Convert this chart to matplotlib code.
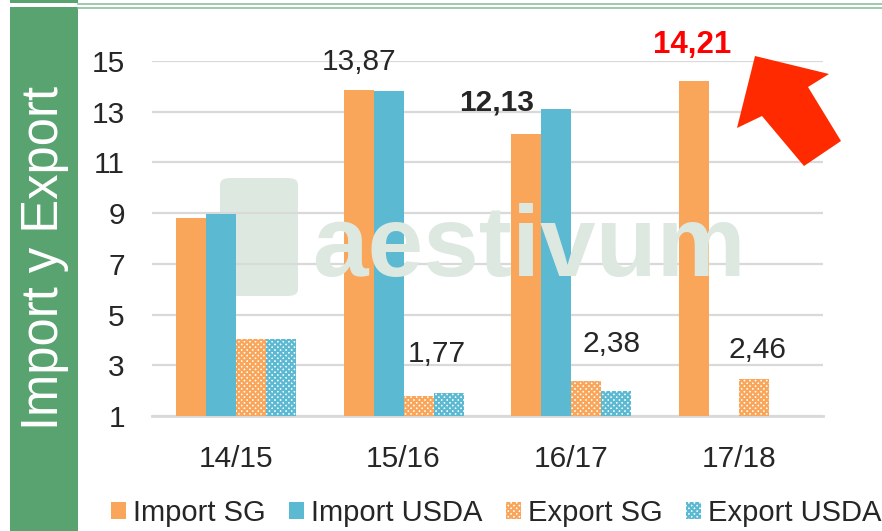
import matplotlib
matplotlib.use("Agg")
import matplotlib.pyplot as plt
import numpy as np
from matplotlib.patches import Polygon, Rectangle, FancyBboxPatch
from matplotlib.lines import Line2D

plt.rcParams['font.family'] = ['Liberation Sans', 'DejaVu Sans']
plt.rcParams['hatch.linewidth'] = 1.6

categories = ["14/15", "15/16", "16/17", "17/18"]
import_sg = [8.81, 13.87, 12.13, 14.21]
import_usda = [8.96, 13.80, 13.10, np.nan]
export_sg = [4.02, 1.77, 2.38, 2.46]
export_usda = [4.02, 1.92, 1.99, np.nan]
yticks = [1, 3, 5, 7, 9, 11, 13, 15]

ORANGE = "#f9a65a"
BLUE = "#5bb9d2"
GREEN = "#58a36f"

W, H = 882, 531
fig = plt.figure(figsize=(W / 100, H / 100), dpi=100)
fig.patch.set_facecolor("white")

# frame decorations
fig.add_artist(Rectangle((10 / W, 0), 68 / W, 1 - 7 / H, transform=fig.transFigure,
                         facecolor=GREEN, edgecolor="none"))
fig.add_artist(Rectangle((10 / W, 1 - 3 / H), 68 / W, 3 / H, transform=fig.transFigure,
                         facecolor=GREEN, edgecolor="none"))
fig.add_artist(Line2D([78 / W, 1], [1 - 3.5 / H, 1 - 3.5 / H], transform=fig.transFigure,
                      color="#8fbf9c", lw=1.2))
fig.add_artist(Line2D([78 / W, 1], [1 - 7.5 / H, 1 - 7.5 / H], transform=fig.transFigure,
                      color="#8fbf9c", lw=1.2))
fig.text(45 / W, 1 - 258 / H, "Import y Export", rotation=90, color="white",
         fontsize=36.5, ha="center", va="center")

ax = fig.add_axes([152 / W, 1 - 416 / H, (823 - 152) / W, (416 - 61) / H])
ax.set_facecolor("none")

# watermark
fig.add_artist(FancyBboxPatch((220 / W, 1 - 296 / H), 78 / W, 118 / H,
                              boxstyle="round,pad=0,rounding_size=0.012",
                              transform=fig.transFigure, facecolor="#dde9e0",
                              edgecolor="none", zorder=0))
fig.text(312 / W, 1 - 250 / H, "aestivum", fontsize=72, fontweight="bold",
         color="#dde9e0", ha="left", va="center", zorder=0.5)

x = np.arange(len(categories))
bw = 0.179
ax.bar(x - 1.5 * bw, import_sg, bw, color=ORANGE, label="Import SG", zorder=3)
ax.bar(x - 0.5 * bw, import_usda, bw, color=BLUE, label="Import USDA", zorder=3)
ax.bar(x + 0.5 * bw, export_sg, bw, facecolor="white", edgecolor=ORANGE, hatch="xxxxxx",
       linewidth=0, label="Export SG", zorder=3)
ax.bar(x + 1.5 * bw, export_usda, bw, facecolor="white", edgecolor=BLUE, hatch="xxxxxx",
       linewidth=0, label="Export USDA", zorder=3)

ax.set_ylim(1, 15)
ax.set_xlim(-0.5, 3.5)
ax.set_yticks(yticks)
ax.yaxis.grid(True, color="#d9d9d9", lw=1.6, zorder=1)
ax.set_axisbelow(True)
for s in ["top", "right", "left"]:
    ax.spines[s].set_visible(False)
ax.spines["bottom"].set_color("#d9d9d9")
ax.spines["bottom"].set_linewidth(2)
ax.tick_params(axis="y", length=0, labelsize=21.5, colors="#262626", pad=19.5)
ax.tick_params(axis="x", length=0, labelsize=21.5, colors="#262626", pad=21)
ax.set_xticks(x)
ax.set_xticklabels(categories)

# data labels
def lab(xv, yv, text, dx, dy, **kw):
    ax.annotate(text, xy=(xv, yv), xytext=(dx, dy), textcoords="offset pixels",
                ha="center", va="center", fontsize=21.5, color="#262626",
                annotation_clip=False, zorder=5, **kw)

lab(x[1] - 1.5 * bw, import_sg[1], "13,87", 0, 28)
lab(x[1] + 0.5 * bw, export_sg[1], "1,77", 18, 42)
lab(x[2] - 1.5 * bw, import_sg[2], "12,13", -30, 31, fontweight="bold")
lab(x[2] + 0.5 * bw, export_sg[2], "2,38", 25, 37)
ax.annotate("14,21", xy=(x[3] - 1.5 * bw, import_sg[3]), xytext=(-2, 36),
            textcoords="offset pixels", ha="center", va="center", fontsize=22.5,
            color="#ff0000", fontweight="bold", annotation_clip=False, zorder=5)
lab(x[3] + 0.5 * bw, export_sg[3], "2,46", 3, 29)

# red arrow
pts = [(755, 56), (829, 74), (808, 87), (841, 141), (804, 166), (762, 116), (737, 128)]
fig.add_artist(Polygon([(px / W, 1 - py / H) for px, py in pts], closed=True,
                       transform=fig.transFigure, facecolor="#ff2a00", edgecolor="none",
                       zorder=6))

leg = ax.legend(loc="center left", bbox_to_anchor=(111 / W, 1 - 513 / H),
                bbox_transform=fig.transFigure, ncol=4, frameon=False,
                fontsize=21, handlelength=0.52, handleheight=0.52, handletextpad=0.22,
                columnspacing=0.82, labelcolor="#262626", borderpad=0,
                borderaxespad=0)

fig.savefig("out.png", dpi=100, facecolor="white")
